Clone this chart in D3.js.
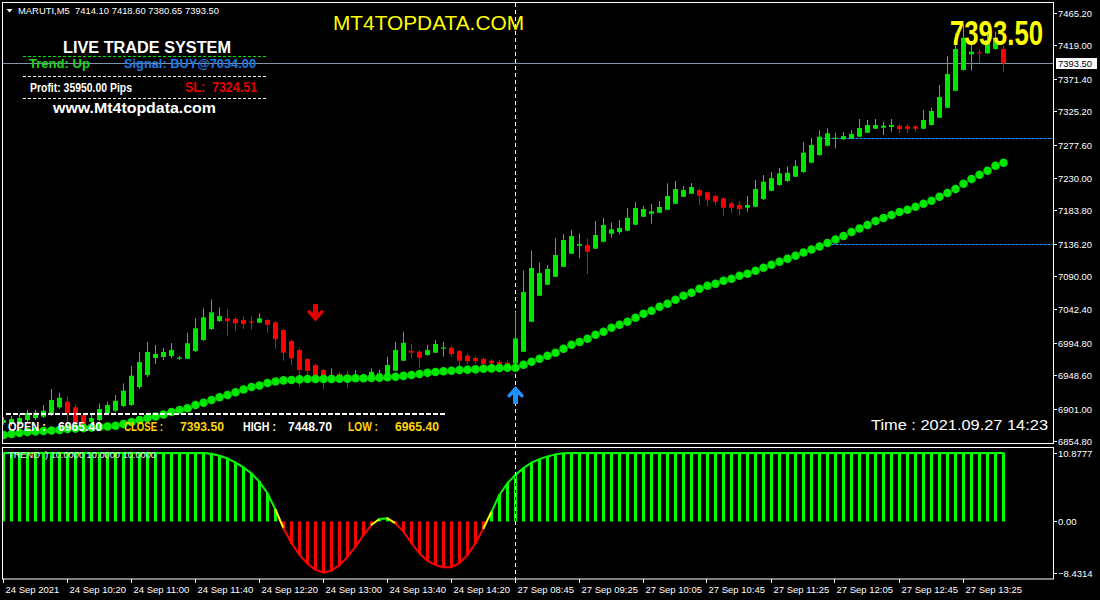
<!DOCTYPE html>
<html><head><meta charset="utf-8">
<script src="https://cdn.jsdelivr.net/npm/d3@7"></script>
<style>html,body{margin:0;padding:0;background:#000;overflow:hidden}</style>
</head><body><svg id="chart" width="1100" height="600"></svg>
<script>
// ---------------- DATA ----------------
const symbol = "MARUTI,M5";
const tickBars = [0,8,16,24,32,40,48,56,64,72,80,88,96,104,112,120];
const timeLabels = ["24 Sep 2021","24 Sep 10:20","24 Sep 11:00","24 Sep 11:40","24 Sep 12:20","24 Sep 13:00","24 Sep 13:40","24 Sep 14:20","27 Sep 08:45","27 Sep 09:25","27 Sep 10:05","27 Sep 10:45","27 Sep 11:25","27 Sep 12:05","27 Sep 12:45","27 Sep 13:25"];
const priceTicks = [7465.20,7419.00,7371.40,7325.20,7277.60,7230.00,7183.80,7136.20,7090.00,7042.40,6994.80,6948.60,6901.00,6854.80];
const trendTicks = [10.8777,0.00,-8.4314];

const opens = [
6880.4,6879.0,6880.4,6884.7,6887.5,6889.4,6891.8,6902.8,6910.8,6902.8,
6891.8,6882.3,6884.7,6894.2,6898.0,6904.7,6906.1,6931.8,6948.9,6973.1,
6974.5,6976.0,6972.4,6972.1,6983.1,6998.8,7014.5,7025.9,7029.7,7028.7,
7027.3,7025.2,7023.5,7027.3,7024.0,7013.1,6997.4,6984.5,6971.7,6963.1,
6956.0,6944.2,6950.3,6948.9,6945.6,6948.9,6945.6,6947.4,6945.6,6955.0,
6969.3,6983.1,6982.1,6977.4,6980.7,6986.7,6987.8,6983.1,6976.4,6973.1,
6971.7,6969.3,6967.8,6966.4,6965.4,6982.1,7024.9,7062.0,7077.7,7089.1,
7103.3,7121.9,7133.3,7134.3,7129.0,7139.0,7150.4,7152.8,7154.7,7163.2,
7174.6,7178.9,7180.3,7184.6,7193.2,7203.2,7207.4,7212.7,7209.4,7204.2,
7200.9,7193.8,7191.3,7187.5,7188.9,7199.9,7211.7,7219.9,7225.6,7231.7,
7238.4,7251.7,7262.6,7275.9,7286.5,7285.0,7285.9,7288.7,7294.4,7300.1,
7301.6,7302.6,7304.4,7303.6,7303.6,7300.1,7305.4,7315.8,7330.1,7354.3,
7383.9,7406.3,7409.1,7407.7,7413.8,7414.1];
const highs = [
6889.0,6890.4,6893.3,6899.0,6899.0,6906.1,6928.9,6923.6,6918.9,6907.1,
6894.7,6894.2,6908.5,6910.8,6920.4,6937.0,6961.7,6981.7,6996.0,6991.7,
6987.4,6994.5,6976.0,7009.2,7029.7,7044.0,7056.8,7045.4,7042.6,7031.6,
7033.0,7033.0,7036.9,7028.7,7025.9,7014.5,6998.8,6986.0,6973.1,6964.6,
6957.4,6958.4,6953.6,6955.0,6956.0,6951.3,6958.4,6956.0,6975.0,6996.4,
7010.6,6993.1,6984.5,6991.7,6998.8,6996.4,6990.2,6984.5,6979.8,6975.0,
6974.1,6971.7,6970.3,6970.3,7039.2,7097.6,7126.2,7109.0,7105.8,7143.8,
7150.0,7155.7,7151.0,7143.8,7168.5,7173.2,7166.1,7169.9,7187.1,7195.6,
7189.9,7192.8,7197.0,7222.3,7225.6,7218.4,7222.7,7214.1,7210.6,7205.6,
7202.0,7196.0,7197.0,7204.2,7227.0,7234.1,7238.4,7244.1,7246.0,7255.5,
7280.8,7287.3,7298.3,7300.7,7294.4,7295.4,7298.3,7314.0,7312.6,7314.0,
7310.1,7314.0,7306.9,7306.9,7305.0,7326.8,7330.1,7362.5,7403.8,7436.2,
7448.7,7425.0,7413.8,7436.2,7438.5,7418.6];
const lows = [
6877.6,6876.1,6877.6,6881.8,6884.7,6887.5,6890.4,6900.4,6868.0,6866.2,
6866.2,6868.0,6883.2,6891.8,6896.1,6903.2,6904.7,6928.9,6946.0,6964.6,
6970.3,6973.1,6970.3,6971.7,6981.7,6997.4,7013.1,7024.5,7004.9,7012.1,
7014.5,7013.5,7023.0,7009.2,6986.4,6969.3,6963.1,6932.2,6942.7,6937.0,
6928.5,6943.2,6939.3,6929.9,6944.6,6940.7,6944.6,6946.0,6944.6,6954.6,
6968.8,6972.7,6958.4,6976.0,6980.3,6975.0,6975.0,6961.7,6964.6,6964.6,
6959.9,6960.7,6959.9,6956.0,6965.4,6981.7,7024.5,7061.5,7077.2,7088.6,
7102.9,7121.4,7115.3,7092.9,7128.6,7138.6,7144.7,7150.0,7154.2,7162.8,
7174.2,7164.7,7179.9,7184.2,7192.8,7202.7,7207.0,7191.3,7189.9,7191.3,
7176.1,7180.3,7177.1,7181.8,7188.5,7198.5,7211.3,7218.4,7224.1,7231.3,
7237.0,7251.2,7261.2,7275.5,7272.2,7284.0,7285.5,7288.3,7294.0,7299.7,
7291.2,7295.9,7294.4,7294.4,7295.9,7299.7,7304.7,7315.4,7329.7,7353.9,
7383.2,7382.9,7393.4,7406.7,7413.1,7380.65];
const closes = [
6884.7,6886.1,6887.5,6894.7,6895.1,6898.0,6913.2,6916.5,6894.2,6880.0,
6872.9,6887.5,6900.4,6906.1,6912.2,6926.5,6947.9,6967.4,6981.7,6978.8,
6981.7,6984.5,6973.8,6994.1,7015.5,7031.2,7038.3,7033.0,7025.9,7022.6,
7021.6,7023.7,7029.7,7020.6,7000.2,6980.7,6972.7,6956.0,6954.6,6947.4,
6941.7,6948.9,6945.6,6945.6,6948.9,6945.6,6953.6,6951.3,6963.1,6984.5,
6994.9,6980.7,6973.5,6984.5,6993.1,6988.1,6978.8,6969.3,6968.8,6968.8,
6964.6,6965.6,6964.1,6963.1,7001.2,7067.2,7101.5,7094.3,7100.1,7120.0,
7141.4,7147.1,7135.7,7124.7,7148.5,7162.8,7156.7,7158.5,7173.2,7187.1,
7185.6,7182.3,7188.5,7204.2,7214.1,7212.7,7217.0,7204.6,7198.9,7196.0,
7187.5,7187.5,7185.6,7191.3,7214.1,7224.6,7229.8,7236.5,7237.4,7246.9,
7265.9,7276.9,7288.7,7293.6,7287.3,7289.7,7292.6,7301.1,7305.4,7305.4,
7304.4,7305.4,7299.7,7300.1,7300.1,7312.6,7325.4,7345.4,7378.2,7413.8,
7429.9,7410.0,7407.7,7426.7,7429.9,7393.5];
const maValues = [
6863.3,6864.7,6866.2,6867.6,6868.3,6869.0,6869.7,6870.4,6871.9,6872.6,
6873.3,6874.0,6874.7,6875.4,6876.6,6879.0,6881.8,6884.7,6887.5,6889.7,
6892.5,6896.1,6899.0,6901.4,6906.1,6909.4,6913.2,6917.1,6920.4,6924.2,
6928.2,6931.8,6933.9,6937.5,6939.6,6941.3,6941.7,6942.7,6943.2,6943.2,
6943.2,6943.2,6943.5,6943.7,6944.2,6944.3,6944.6,6945.0,6945.6,6946.4,
6947.7,6948.9,6950.3,6952.2,6953.2,6954.2,6955.0,6956.0,6956.4,6957.0,
6957.9,6958.4,6958.9,6959.3,6959.3,6963.6,6967.8,6972.1,6976.4,6980.7,
6986.4,6992.1,6995.9,7000.6,7006.4,7010.6,7016.3,7020.6,7024.9,7030.6,
7036.3,7040.6,7046.3,7050.6,7056.3,7062.0,7066.3,7072.0,7076.2,7079.1,
7083.4,7086.2,7090.5,7093.4,7097.6,7101.9,7106.2,7110.5,7114.7,7119.0,
7123.6,7127.9,7132.1,7137.1,7142.1,7147.1,7152.8,7157.8,7162.8,7168.5,
7172.8,7177.1,7181.3,7184.6,7188.9,7193.2,7197.5,7203.2,7208.4,7214.1,
7221.7,7228.4,7234.5,7240.2,7247.4,7251.7];
const trendValues = [
10,10,10,10,10,10,10,10,10,10,
10,10,10,10,10,10,10,10,10,10,
10,10,10,10,10,10,9.9,9.6,9.2,8.6,
7.9,7.0,5.8,4.1,1.7,-1.0,-3.2,-4.9,-6.2,-7.1,
-7.5,-7.2,-6.4,-5.2,-3.7,-2.0,-0.5,0.35,0.45,-0.3,
-1.5,-3.2,-4.7,-5.75,-6.4,-6.7,-6.7,-6.1,-4.9,-3.2,
-1.0,1.4,3.9,5.6,6.8,7.8,8.6,9.1,9.5,9.8,
9.95,10,10,10,10,10,10,10,10,10,
10,10,10,10,10,10,10,10,10,10,
10,10,10,10,10,10,10,10,10,10,
10,10,10,10,10,10,10,10,10,10,
10,10,10,10,10,10,10,10,10,10,
10,10,10,10,10,10];
const stopLevels = [7286.5, 7136.1];
const stopStartBar = 102;
const separatorBar = 64;
const dayStartBar = 64;
const signalBars = [39, 64];
const signalDirs = ["down", "up"];
const signalPrices = [7050.1, 6933.2];
const panelTitle = "LIVE TRADE SYSTEM";
const trendText = "Trend: Up";
const signalText = "Signal: BUY@7034.00";
const profitText = "Profit: 35950.00 Pips";
const slText = "SL:  7324.51";
const siteText = "www.Mt4topdata.com";
const brandText = "MT4TOPDATA.COM";
const timeText = "Time : 2021.09.27 14:23";
const trendLabel = "TREND :) 10.0000 10.0000 10.0000";

// ---------------- DRAW ----------------
const f2 = d3.format(".2f");
const SANS = "'Liberation Sans', Arial, sans-serif";
const GREEN = "#00e600", RED = "#ff0000", YEL = "#ffff00";
const PL=2, PR=1053, MT=2, MB=444, ST=447, SB=579;
const n = closes.length;
const lastPrice = closes[n-1];

const svg = d3.select("#chart");
svg.append("rect").attr("width",1100).attr("height",600).attr("fill","#000");

const x = d3.scaleLinear().domain([0, n-1]).range([3.5, 1003.5]);
const y = d3.scaleLinear().domain([6850.5, 7480.9]).range([MB, MT]);
const y2 = d3.scaleLinear().domain([d3.min(trendTicks), d3.max(trendTicks)]).range([SB, ST]);

const defs = svg.append("defs");
defs.append("clipPath").attr("id","cm").append("rect").attr("x",PL+1).attr("y",MT+1).attr("width",PR-PL-1).attr("height",MB-MT-2);
defs.append("clipPath").attr("id","cs").append("rect").attr("x",PL+1).attr("y",ST+1).attr("width",PR-PL-1).attr("height",SB-ST-1);

// sub panel histogram + curve
const gs = svg.append("g").attr("clip-path","url(#cs)");
trendValues.forEach((v,i)=>{
  const y0 = y2(0), y1 = y2(v);
  gs.append("rect").attr("x",x(i)-1.5).attr("width",3)
    .attr("y",Math.min(y0,y1)).attr("height",Math.abs(y1-y0))
    .attr("fill", v>=0 ? "#00ff00" : RED);
});
for (let i=0;i<n-1;i++){
  const a=trendValues[i], b=trendValues[i+1];
  const col = (a>0&&b>0) ? "#00ff00" : (a<0&&b<0) ? RED : YEL;
  gs.append("line").attr("x1",x(i)).attr("x2",x(i+1)).attr("y1",y2(a)).attr("y2",y2(b))
    .attr("stroke",col).attr("stroke-width",2).attr("stroke-linecap","round");
}

// separator (period) line
const sx = Math.round(x(separatorBar)-0.5)+0.5;
svg.append("line").attr("x1",sx).attr("x2",sx).attr("y1",MT+1).attr("y2",SB).attr("stroke","#000").attr("stroke-width",1);
svg.append("line").attr("x1",sx).attr("x2",sx).attr("y1",MT+1).attr("y2",SB).attr("stroke","#fff").attr("stroke-width",1).attr("stroke-dasharray","4,3");

// main panel
const gm = svg.append("g").attr("clip-path","url(#cm)");
const by = Math.round(y(lastPrice))+0.5;
gm.append("line").attr("x1",PL).attr("x2",PR).attr("y1",by).attr("y2",by).attr("stroke","#8494a4");
stopLevels.forEach(p=>{
  const yy = Math.round(y(p))+0.5;
  gm.append("line").attr("x1",x(stopStartBar)).attr("x2",PR).attr("y1",yy).attr("y2",yy)
    .attr("stroke","#1e90ff").attr("stroke-dasharray","3,1");
});
for (let i=0;i<n;i++){
  const o=opens[i], c=closes[i], h=highs[i], l=lows[i];
  const col = c>=o ? GREEN : RED;
  const cx = x(i);
  gm.append("line").attr("x1",cx).attr("x2",cx).attr("y1",y(h)).attr("y2",y(l)).attr("stroke",col).attr("stroke-width",1);
  const t = y(Math.max(o,c)), b = y(Math.min(o,c));
  gm.append("rect").attr("x",cx-2.5).attr("width",5).attr("y",t).attr("height",Math.max(1.2,b-t)).attr("fill",col);
}
maValues.forEach((v,i)=>{
  gm.append("circle").attr("cx",x(i)).attr("cy",y(v)).attr("r",4.3).attr("fill",GREEN);
});
// signal arrows
signalBars.forEach((b,i)=>{
  const cx = x(b), ty = y(signalPrices[i]);
  if (signalDirs[i]==="down"){
    const p = [[-2.5,0],[2.5,0],[2.5,9],[6.5,5.5],[8.5,8],[0,17.5],[-8.5,8],[-6.5,5.5],[-2.5,9]];
    gm.append("path").attr("d","M"+p.map(q=>[cx+q[0],ty+q[1]].join(",")).join("L")+"Z").attr("fill","#e60000");
  } else {
    const p = [[0,0],[8.5,9.5],[6.5,12],[2.5,8.5],[2.5,18],[-2.5,18],[-2.5,8.5],[-6.5,12],[-8.5,9.5]];
    gm.append("path").attr("d","M"+p.map(q=>[cx+q[0],ty+q[1]].join(",")).join("L")+"Z").attr("fill","#1e90ff");
  }
});

// frames
svg.append("rect").attr("x",PL+0.5).attr("y",MT+0.5).attr("width",PR-PL).attr("height",MB-MT-1).attr("fill","none").attr("stroke","#fff");
svg.append("rect").attr("x",PL+0.5).attr("y",ST+0.5).attr("width",PR-PL).attr("height",SB-ST-0.5).attr("fill","none").attr("stroke","#fff");

function T(s,xx,yy,size,color,opt={}){
  const t = svg.append("text").attr("x",xx).attr("y",yy).text(s)
    .attr("font-family",SANS).attr("font-size",size).attr("fill",color)
    .style("white-space","pre");
  if (opt.bold) t.attr("font-weight","bold");
  if (opt.len) t.attr("textLength",opt.len).attr("lengthAdjust","spacingAndGlyphs");
  if (opt.anchor) t.attr("text-anchor",opt.anchor);
  if (opt.sy) t.attr("x",0).attr("y",0).attr("transform",`translate(${xx},${yy}) scale(1,${opt.sy})`);
  return t;
}

// right price axis
priceTicks.forEach(p=>{
  const yy = Math.round(y(p))+0.5;
  svg.append("line").attr("x1",PR).attr("x2",PR+4).attr("y1",yy).attr("y2",yy).attr("stroke","#fff");
  T(f2(p),1058,yy+3.5,9.5,"#fff",{len:34});
});
trendTicks.forEach(v=>{
  const yy = Math.min(Math.max(y2(v), ST+6), SB-6);
  svg.append("line").attr("x1",PR).attr("x2",PR+4).attr("y1",Math.round(yy)+0.5).attr("y2",Math.round(yy)+0.5).attr("stroke","#fff");
  T(v===0?"0.00":d3.format(".4f")(v),1058,yy+3.5,9.5,"#fff");
});
// current price box
svg.append("rect").attr("x",1056).attr("y",by-5.5).attr("width",41).attr("height",11).attr("fill","#fff");
T(f2(lastPrice),1058,by+3.5,9.5,"#000",{len:34});

// time axis
tickBars.forEach((b,i)=>{
  const tx = Math.round(x(b)-1)+0.5;
  svg.append("line").attr("x1",tx).attr("x2",tx).attr("y1",SB).attr("y2",SB+4).attr("stroke","#fff");
  T(timeLabels[i],tx+2,593,9.5,"#fff");
});

// header
svg.append("path").attr("d","M6.5,9L12.5,9L9.5,12.5Z").attr("fill","#fff");
T(symbol+"  "+[opens[n-1],highs[n-1],lows[n-1],closes[n-1]].map(f2).join(" "),18,14,9.5,"#fff",{len:201});
T(brandText,333,30,20.5,YEL,{len:191});
T(f2(lastPrice),950,45,26,YEL,{bold:true,sy:1.35,len:93});

// info box top-left
T(panelTitle,63,52.5,16,"#fff",{bold:true,len:168});
[[56.5,"#00e600"],[76.5,"#fff"],[98.5,"#fff"]].forEach(d=>{
  svg.append("line").attr("x1",23).attr("x2",267).attr("y1",d[0]).attr("y2",d[0]).attr("stroke",d[1]).attr("stroke-dasharray","3,2");
});
T(trendText,29,68,13,"#1ed21e",{bold:true,len:61});
T(signalText,124,68,13,"#1e7be6",{bold:true,len:132});
T(profitText,30,91.7,11,"#fff",{bold:true,sy:1.15,len:102});
T(slText,185,91.7,12.5,"#e00000",{bold:true,sy:1.1,len:72});
T(siteText,53,113.3,15.5,"#fff",{bold:true,len:163});

// day OHLC box
const dayHigh = d3.max(highs.slice(dayStartBar)), dayLow = d3.min(lows.slice(dayStartBar));
svg.append("line").attr("x1",6).attr("x2",446).attr("y1",414).attr("y2",414).attr("stroke","#fff").attr("stroke-width",2).attr("stroke-dasharray","5,2");
const GOLD = "#ffd700";
T("OPEN :",8,431,12,"#fff",{bold:true,len:38});
T(f2(opens[dayStartBar]),58,431,12,"#fff",{bold:true,len:44});
T("CLOSE :",124,431,12,GOLD,{bold:true,len:39});
T(f2(lastPrice),180,431,12,GOLD,{bold:true,len:44});
T("HIGH :",243,431,12,"#fff",{bold:true,len:33});
T(f2(dayHigh),288,431,12,"#fff",{bold:true,len:44});
T("LOW :",348,431,12,GOLD,{bold:true,len:30});
T(f2(dayLow),395,431,12,GOLD,{bold:true,len:44});

T(timeText,871,429.5,15.5,"#fff",{len:177});
T(trendLabel,8,458,9,"#fff",{len:148});
</script></body></html>
